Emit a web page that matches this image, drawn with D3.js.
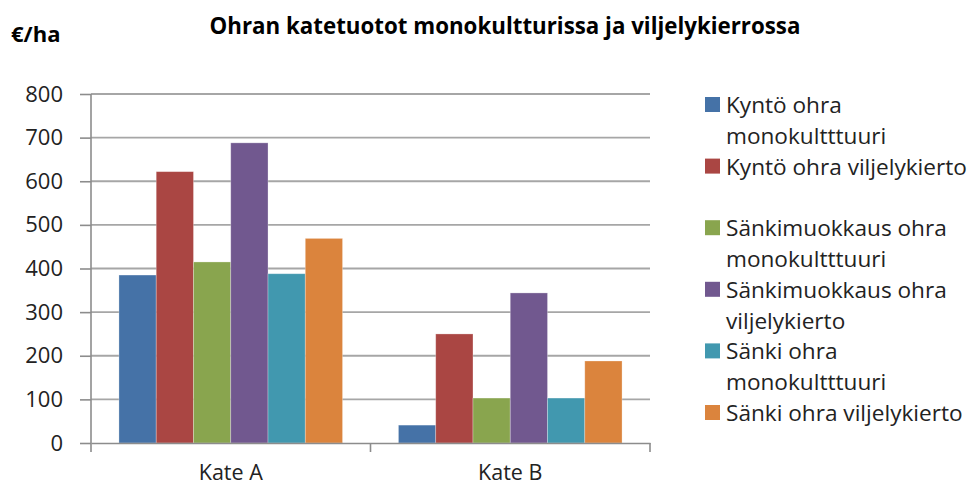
<!DOCTYPE html>
<html>
<head>
<meta charset="utf-8">
<script src="https://cdn.jsdelivr.net/npm/d3@7"></script>
<style>
  html, body { margin: 0; padding: 0; background: #fff; }
  svg { display: block; font-family: "Open Sans", sans-serif; }
</style>
</head>
<body>
<svg id="chart" width="978" height="488"></svg>
<script>
// chart data
const categories = ["Kate A", "Kate B"];
const seriesNames = [
  "Kyntö ohra monokultttuuri",
  "Kyntö ohra viljelykierto",
  "Sänkimuokkaus ohra monokultttuuri",
  "Sänkimuokkaus ohra viljelykierto",
  "Sänki ohra monokultttuuri",
  "Sänki ohra viljelykierto"
];
const kateA = [385, 622, 415, 688, 388, 469];
const kateB = [41, 250, 103, 344, 103, 188];
const yTicks = [0, 100, 200, 300, 400, 500, 600, 700, 800];
const colors = ["#4572A7", "#AA4643", "#89A54E", "#71588F", "#4198AF", "#DB843D"];

// legend text as it wraps in the original
const legendLines = [
  ["Kyntö ohra", "monokultttuuri"],
  ["Kyntö ohra viljelykierto"],
  ["Sänkimuokkaus ohra", "monokultttuuri"],
  ["Sänkimuokkaus ohra", "viljelykierto"],
  ["Sänki ohra", "monokultttuuri"],
  ["Sänki ohra viljelykierto"]
];
const legendRow = [0, 2, 4, 6, 8, 10]; // Excel leaves an empty row after item 2

const values = [kateA, kateB];

const svg = d3.select("#chart");
const plot = { left: 91, right: 650, top: 94, bottom: 443 };

const x0 = d3.scaleBand()
  .domain(categories)
  .range([plot.left, plot.right])
  .padding(0);

const x1 = d3.scaleBand()
  .domain(d3.range(seriesNames.length))
  .range([0, x0.bandwidth()])
  .paddingInner(0)
  .paddingOuter(0.75);

const y = d3.scaleLinear()
  .domain([0, 800])
  .range([plot.bottom, plot.top]);

// gridlines
svg.append("g")
  .selectAll("line")
  .data(yTicks.filter(d => d > 0))
  .join("line")
  .attr("x1", plot.left)
  .attr("x2", plot.right)
  .attr("y1", d => y(d))
  .attr("y2", d => y(d))
  .attr("stroke", "#a6a6a6")
  .attr("stroke-width", 1.8);

// bars
const groups = svg.append("g")
  .selectAll("g")
  .data(categories)
  .join("g")
  .attr("transform", d => `translate(${x0(d)},0)`);

groups.selectAll("rect")
  .data((d, ci) => values[ci].map((v, si) => ({ v, si })))
  .join("rect")
  .attr("x", d => x1(d.si))
  .attr("width", x1.bandwidth())
  .attr("y", d => y(d.v))
  .attr("height", d => y(0) - y(d.v))
  .attr("fill", d => colors[d.si])
  .attr("stroke", "#ffffff")
  .attr("stroke-opacity", 0.35)
  .attr("stroke-width", 0.8);

// y axis
const yAxis = svg.append("g")
  .attr("transform", `translate(${plot.left},0)`)
  .call(d3.axisLeft(y).tickValues(yTicks).tickSize(11).tickPadding(17).tickSizeOuter(0));
yAxis.select(".domain").attr("stroke", "#8c8c8c").attr("stroke-width", 1.6)
  .attr("d", `M0,${plot.top}V${plot.bottom + 9}`);
yAxis.selectAll(".tick line").attr("stroke", "#8c8c8c").attr("stroke-width", 1.6);
yAxis.selectAll(".tick text")
  .attr("font-size", 22)
  .attr("fill", "#222")
  .attr("font-family", "'Open Sans', sans-serif");

// x axis
const xAxis = svg.append("g")
  .attr("transform", `translate(0,${plot.bottom})`)
  .call(d3.axisBottom(x0).tickSize(0).tickPadding(22));
xAxis.select(".domain").attr("stroke", "#8c8c8c").attr("stroke-width", 1.6);
xAxis.selectAll(".tick text")
  .attr("font-size", 21.5)
  .attr("fill", "#222")
  .attr("font-family", "'Open Sans', sans-serif");

// ticks between categories
svg.append("g")
  .selectAll("line")
  .data(categories.map(c => x0(c) + x0.bandwidth()))
  .join("line")
  .attr("x1", d => d)
  .attr("x2", d => d)
  .attr("y1", plot.bottom)
  .attr("y2", plot.bottom + 9)
  .attr("stroke", "#8c8c8c")
  .attr("stroke-width", 1.6);

// title and unit
svg.append("text")
  .attr("x", 505)
  .attr("y", 34)
  .attr("text-anchor", "middle")
  .attr("font-size", 22.3)
  .attr("font-weight", "bold")
  .attr("fill", "#000")
  .text("Ohran katetuotot monokultturissa ja viljelykierrossa");

svg.append("text")
  .attr("x", 11)
  .attr("y", 42)
  .attr("font-size", 22)
  .attr("font-weight", "bold")
  .attr("fill", "#000")
  .text("€/ha");

// legend
const rowH = 30.8;
const legend = svg.append("g").attr("transform", "translate(705,105)");
const items = legend.selectAll("g")
  .data(seriesNames)
  .join("g")
  .attr("transform", (d, i) => `translate(0,${legendRow[i] * rowH})`);

items.append("rect")
  .attr("x", 0)
  .attr("y", -8)
  .attr("width", 15)
  .attr("height", 15)
  .attr("fill", (d, i) => colors[i]);

items.append("text")
  .attr("x", 21)
  .attr("font-size", 22.6)
  .attr("fill", "#222")
  .selectAll("tspan")
  .data((d, i) => legendLines[i])
  .join("tspan")
  .attr("x", 21)
  .attr("y", (d, j) => j * rowH)
  .attr("dy", "0.35em")
  .text(d => d);
</script>
</body>
</html>
